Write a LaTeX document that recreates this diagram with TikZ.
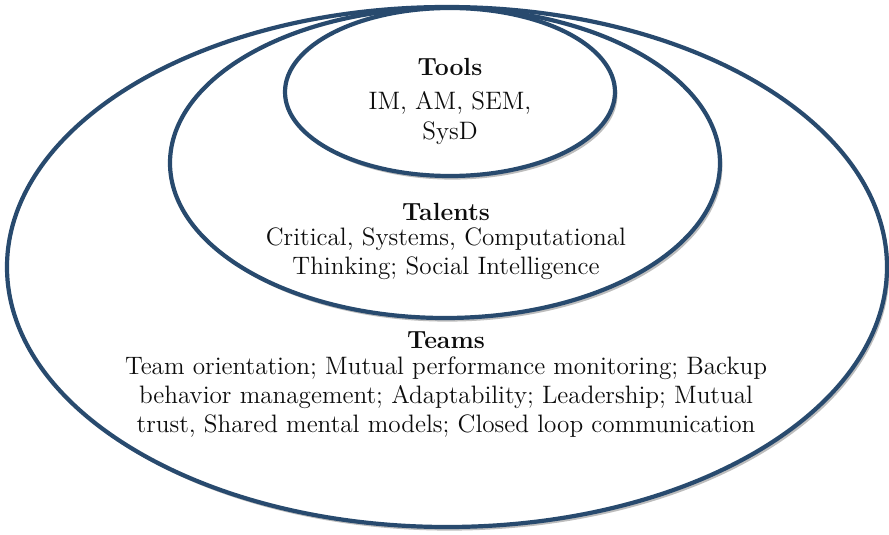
\documentclass[tikz,border=0pt]{standalone}
\usetikzlibrary{shapes.geometric,shadows}
\definecolor{RingNavy}{HTML}{284A6E}
\definecolor{RingShade}{HTML}{BDBDBD}
\tikzset{
  ring/.style={ellipse, draw=RingNavy, fill=white, line width=2.1pt, inner sep=0pt,
    drop shadow={shadow xshift=1.2pt, shadow yshift=-1.8pt, fill=RingShade, opacity=1}},
  ring head/.style={font=\fontsize{12.4}{14.6}\selectfont\bfseries, text=black!95},
  ring body/.style={font=\fontsize{12.6}{14.6}\selectfont, text=black!95, align=center},
}
\begin{document}
\begin{tikzpicture}[x=0.5pt,y=-0.5pt]
  \useasboundingbox (0,0) rectangle (889,535);

  % Three nested rings, all touching near the top edge.
  \node[ring, minimum width=440pt, minimum height=260pt] (teams) at (447,267) {};
  \node[ring, minimum width=275pt, minimum height=155pt] (talents) at (445,163) {};
  \node[ring, minimum width=165pt, minimum height=84pt] (tools) at (450,92) {};

  % Inner ring: tools
  \node[ring head] (tools head) at (450,67) {Tools};
  \node[ring body] (tools body) at (450,118) {IM, AM, SEM,\\SysD};

  % Middle ring: talents
  \node[ring head] (talents head) at (446,212) {Talents};
  \node[ring body] (talents body) at (446,254)
    {Critical, Systems, Computational\\Thinking; Social Intelligence};

  % Outer ring: teams
  \node[ring head] (teams head) at (446,340) {Teams};
  \node[ring body] (teams body) at (446,397)
    {Team orientation; Mutual performance monitoring; Backup\\
     behavior management; Adaptability; Leadership; Mutual\\
     trust, Shared mental models; Closed loop communication};
\end{tikzpicture}
\end{document}
